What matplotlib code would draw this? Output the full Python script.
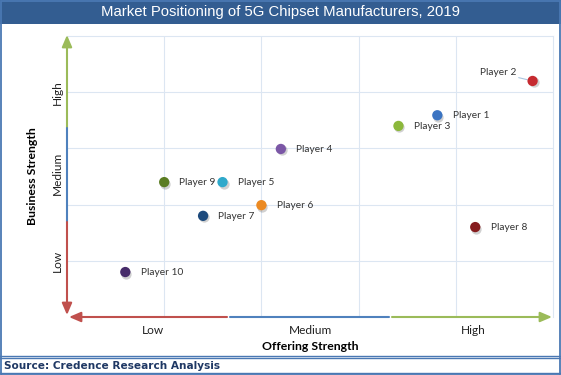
import matplotlib
matplotlib.use("Agg")
import matplotlib.pyplot as plt
from matplotlib.patches import Rectangle
from matplotlib.lines import Line2D
import matplotlib.transforms as mtransforms

title = "Market Positioning of 5G Chipset Manufacturers, 2019"
source = "Source: Credence Research Analysis"
players = ["Player 1", "Player 2", "Player 3", "Player 4", "Player 5",
           "Player 6", "Player 7", "Player 8", "Player 9", "Player 10"]
offering = [3.81, 4.79, 3.41, 2.20, 1.60, 2.00, 1.40, 4.20, 1.00, 0.60]
business = [3.59, 4.20, 3.40, 2.99, 2.40, 1.99, 1.80, 1.60, 2.40, 0.80]
colors = ["#3b74c2", "#c62a30", "#8cb83b", "#7b57a6", "#2fa9cb",
          "#ec8a22", "#1d4a7c", "#861c1e", "#5a7c22", "#472c6a"]
x_levels = ["Low", "Medium", "High"]
x_level_pos = [0.88, 2.51, 4.18]
y_levels = ["Low", "Medium", "High"]
y_level_pos = [1.0, 2.56, 4.0]

W, H = 561, 375
fig = plt.figure(figsize=(W / 100, H / 100), dpi=100)
fig.patch.set_facecolor("white")

# frame / title bar / source bar
navy = "#335d91"
fig.patches.append(Rectangle((0, 1 - 24 / H), 1, 24 / H, transform=fig.transFigure,
                             facecolor=navy, edgecolor="none", zorder=0))
fig.patches.append(Rectangle((0.5 / W, 0.5 / H), (W - 1.5) / W, (H - 1) / H,
                             transform=fig.transFigure, facecolor="none",
                             edgecolor="#4a78b3", lw=1.3, zorder=5))
for yy in [356, 358, 373]:
    fig.lines.append(Line2D([0, 1], [1 - yy / H, 1 - yy / H], transform=fig.transFigure,
                            color="#4a78b3", lw=1.0, zorder=5))
fig.text(0.5, 1 - 12 / H, title, ha="center", va="center", color="white",
         fontsize=10.7, family="Liberation Sans")
fig.text(4 / W, 1 - 366 / H, source, ha="left", va="center", color="#1f3864",
         fontsize=7.6, family="DejaVu Sans", fontweight="bold")

# plot area
L, R, T, B = 67, 553, 36, 317
ax = fig.add_axes([L / W, 1 - B / H, (R - L) / W, (B - T) / H])
ax.set_xlim(0, 5)
ax.set_ylim(0, 5)
for s in ax.spines.values():
    s.set_visible(False)
ax.spines["right"].set_visible(True)
ax.spines["top"].set_visible(True)
ax.spines["right"].set_color("#dce6f2")
ax.spines["top"].set_color("#dce6f2")
for v in range(1, 5):
    ax.axvline(v, color="#dce6f2", lw=0.8, zorder=0)
    ax.axhline(v, color="#dce6f2", lw=0.8, zorder=0)

ax.set_xticks(x_level_pos)
ax.set_xticklabels(x_levels, fontsize=8.6, family="Lato", color="#222222")
ax.set_yticks(y_level_pos)
ax.set_yticklabels(y_levels, fontsize=8.6, family="Lato", color="#222222",
                   rotation=90, va="center")
ax.tick_params(axis="x", length=0, pad=6)
ax.tick_params(axis="y", length=0, pad=3)
ax.set_xlabel("Offering Strength", fontsize=8.8, family="Lato", fontweight="bold",
              labelpad=3)
ax.set_ylabel("Business Strength", fontsize=8.8, family="Lato", fontweight="bold",
              labelpad=10)

# axis arrows
def fx(px):
    return (px - L) / (R - L)

def fy(py):
    return (B - py) / (B - T)

def seg(p0, p1, color, head):
    style = "-|>" if head else "-"
    ax.annotate("", xy=p1, xytext=p0, xycoords="axes fraction",
                textcoords="axes fraction", annotation_clip=False,
                arrowprops=dict(arrowstyle=style + (",head_length=0.7,head_width=0.3" if head else ""),
                                color=color, lw=1.5, shrinkA=0, shrinkB=0))

red, blue, green = "#c0504d", "#4f81bd", "#9bbb59"
seg((0, fy(128)), (0, fy(35)), green, True)
seg((0, fy(222)), (0, fy(128)), blue, False)
seg((0, fy(222)), (0, fy(315)), red, True)
seg((fx(227), 0), (fx(69), 0), red, True)
seg((fx(230), 0), (fx(389), 0), blue, False)
seg((fx(392), 0), (fx(552), 0), green, True)

# points (with soft shadow)
shadow = ax.transData + mtransforms.ScaledTranslation(1 / 100, -1.5 / 100, fig.dpi_scale_trans)
ax.scatter(offering, business, s=55, c="#000000", alpha=0.18, zorder=3, clip_on=False,
           linewidths=0, transform=shadow)
ax.scatter(offering, business, s=55, c=colors, zorder=4, clip_on=False, linewidths=0)
for name, x, y in zip(players, offering, business):
    if name == "Player 2":
        ax.annotate(name, xy=(x, y), xytext=(-12, 6), textcoords="offset points",
                    ha="right", va="center", fontsize=7.3, family="Lato", color="#333333",
                    arrowprops=dict(arrowstyle="-", color="#a9c4de", lw=0.8,
                                    shrinkA=0, shrinkB=4))
    else:
        ax.annotate(name, xy=(x, y), xytext=(11, -0.5), textcoords="offset points",
                    ha="left", va="center", fontsize=7.3, family="Lato", color="#333333")

fig.savefig("out.png", dpi=100)
